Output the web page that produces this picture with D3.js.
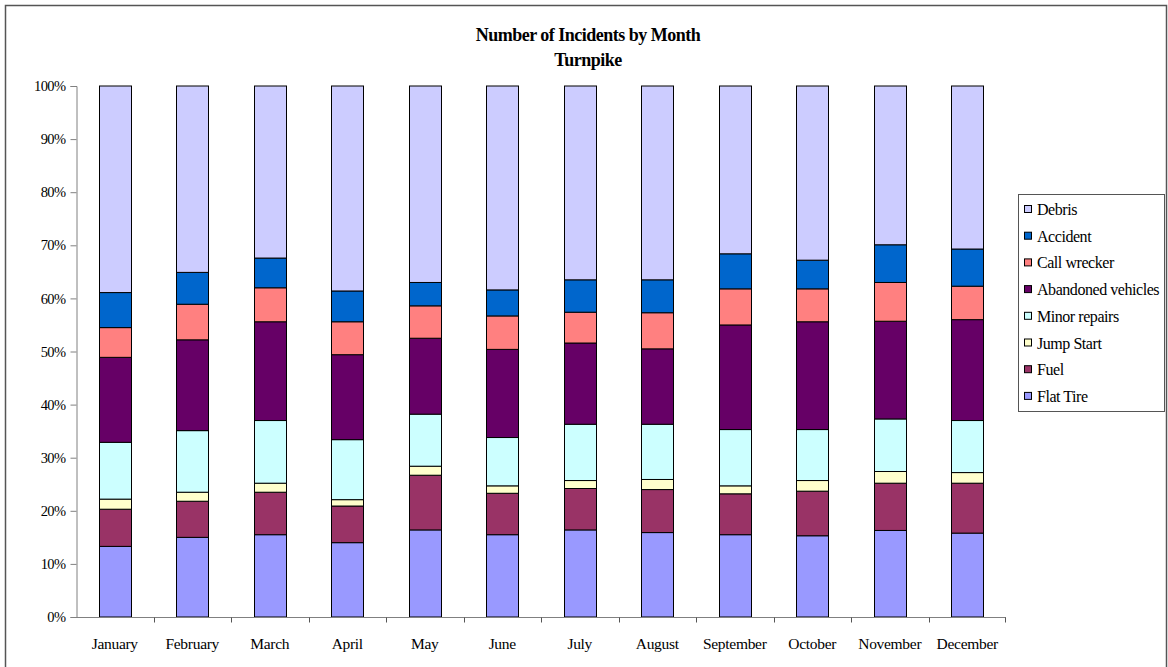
<!DOCTYPE html>
<html>
<head>
<meta charset="utf-8">
<script src="https://cdnjs.cloudflare.com/ajax/libs/d3/7.8.5/d3.min.js"></script>
<style>
    body { margin: 0; background: #fff; }
    text { font-family: "Liberation Serif", "Times New Roman", serif; fill: #000; }
</style>
</head>
<body>
<svg id="chart" width="1168" height="667"></svg>
<script>
// months along the x axis
var months = ["January", "February", "March", "April", "May", "June", "July",
    "August", "September", "October", "November", "December"];

// share of incidents per month (%), bottom to top
var flatTire = [13.3, 15.0, 15.5, 14.0, 16.4, 15.5, 16.4, 15.9, 15.5, 15.3, 16.3, 15.8];
var fuel = [7.0, 6.8, 8.0, 6.9, 10.3, 7.8, 7.8, 8.1, 7.7, 8.4, 8.9, 9.4];
var jumpStart = [1.9, 1.7, 1.7, 1.2, 1.7, 1.4, 1.5, 1.9, 1.5, 2.0, 2.2, 2.0];
var minorRepairs = [10.7, 11.6, 11.8, 11.3, 9.8, 9.1, 10.6, 10.4, 10.6, 9.6, 9.9, 9.8];
var abandoned = [16.0, 17.1, 18.6, 16.0, 14.3, 16.6, 15.3, 14.2, 19.7, 20.3, 18.4, 19.0];
var callWrecker = [5.6, 6.7, 6.4, 6.2, 6.1, 6.3, 5.8, 6.8, 6.8, 6.2, 7.3, 6.3];
var accident = [6.6, 6.0, 5.6, 5.8, 4.4, 4.9, 6.1, 6.2, 6.6, 5.4, 7.1, 7.0];
var debris = [38.9, 35.1, 32.4, 38.6, 37.0, 38.4, 36.5, 36.5, 31.6, 32.8, 29.9, 30.7];

var yTicks = [0, 0.1, 0.2, 0.3, 0.4, 0.5, 0.6, 0.7, 0.8, 0.9, 1];

var series = [
    { name: "Flat Tire", values: flatTire, color: "#9999FF" },
    { name: "Fuel", values: fuel, color: "#993366" },
    { name: "Jump Start", values: jumpStart, color: "#FFFFCC" },
    { name: "Minor repairs", values: minorRepairs, color: "#CCFFFF" },
    { name: "Abandoned vehicles", values: abandoned, color: "#660066" },
    { name: "Call wrecker", values: callWrecker, color: "#FF8080" },
    { name: "Accident", values: accident, color: "#0066CC" },
    { name: "Debris", values: debris, color: "#CCCCFF" }
];

var table = months.map((m, i) => {
    var row = { month: m };
    series.forEach((s) => { row[s.name] = s.values[i]; });
    return row;
});

var svg = d3.select("#chart");

// outer chart frame
svg.append("rect")
    .attr("x", 5.5).attr("y", 5.5)
    .attr("width", 1161).attr("height", 680)
    .attr("fill", "none").attr("stroke", "#555").attr("stroke-width", 1.5);

var plot = { left: 76, right: 1006, top: 86, bottom: 617 };

var x = d3.scaleBand().domain(months).range([plot.left, plot.right]).paddingInner(0.59).paddingOuter(0.295);
var xBand = d3.scaleBand().domain(months).range([plot.left, plot.right]);
var y = d3.scaleLinear().domain([0, 1]).range([plot.bottom, plot.top]);

var stack = d3.stack().keys(series.map((s) => s.name)).offset(d3.stackOffsetExpand);
var layers = stack(table);

svg.append("g")
    .selectAll("g")
    .data(layers)
    .enter()
    .append("g")
    .attr("fill", (d, i) => series[i].color)
    .selectAll("rect")
    .data((d) => d)
    .enter()
    .append("rect")
    .attr("x", (d) => Math.round(x(d.data.month)) + 0.5)
    .attr("y", (d) => y(d[1]))
    .attr("width", Math.round(x.bandwidth()))
    .attr("height", (d) => y(d[0]) - y(d[1]))
    .attr("stroke", "#000")
    .attr("stroke-width", 1);

// y axis
var yAxis = svg.append("g")
    .attr("transform", "translate(" + (plot.left + 0.5) + ",0)")
    .call(d3.axisLeft(y).tickValues(yTicks).tickFormat(d3.format(".0%")).tickSize(6).tickPadding(5));
yAxis.selectAll("line, path").attr("stroke", "#808080");
yAxis.selectAll("text").style("font-size", "14.5px").style("letter-spacing", "-0.6px")
    .style("font-family", "'Liberation Serif', serif");

// x axis: ticks sit at band boundaries
var xAxis = svg.append("g")
    .attr("transform", "translate(0," + (plot.bottom + 0.5) + ")");
xAxis.append("line")
    .attr("x1", plot.left).attr("x2", plot.right)
    .attr("stroke", "#808080");
xAxis.selectAll(".tick")
    .data(months.slice(1).concat(["end"]))
    .enter()
    .append("line")
    .attr("x1", (d) => d === "end" ? plot.right - 0.5 : Math.round(xBand(d)) + 0.5)
    .attr("x2", (d) => d === "end" ? plot.right - 0.5 : Math.round(xBand(d)) + 0.5)
    .attr("y1", 0).attr("y2", 5)
    .attr("stroke", "#555");
xAxis.selectAll("text")
    .data(months)
    .enter()
    .append("text")
    .attr("x", (d) => xBand(d) + xBand.bandwidth() / 2)
    .attr("y", 31)
    .attr("text-anchor", "middle")
    .style("font-size", "15.5px")
    .style("letter-spacing", "-0.3px")
    .text((d) => d);

// titles
svg.append("text")
    .attr("x", 588).attr("y", 41)
    .attr("text-anchor", "middle")
    .style("font-size", "18px").style("font-weight", "bold").style("letter-spacing", "-0.5px")
    .text("Number of Incidents by Month");
svg.append("text")
    .attr("x", 588).attr("y", 66)
    .attr("text-anchor", "middle")
    .style("font-size", "18px").style("font-weight", "bold").style("letter-spacing", "-0.5px")
    .text("Turnpike");

// legend, top item is the top of the stack
var legend = svg.append("g").attr("transform", "translate(1018,194)");
legend.append("rect")
    .attr("x", 0.5).attr("y", 0.5)
    .attr("width", 146).attr("height", 217)
    .attr("fill", "#fff").attr("stroke", "#555");
var items = legend.selectAll(".item")
    .data(series.slice().reverse())
    .enter()
    .append("g")
    .attr("transform", (d, i) => "translate(0," + (16 + i * 26.7) + ")");
items.append("rect")
    .attr("x", 6.5).attr("y", -4.5)
    .attr("width", 7).attr("height", 7)
    .attr("fill", (d) => d.color)
    .attr("stroke", "#000");
items.append("text")
    .attr("x", 19).attr("y", 5)
    .style("font-size", "16px")
    .style("letter-spacing", "-0.45px")
    .text((d) => d.name);
</script>
</body>
</html>
